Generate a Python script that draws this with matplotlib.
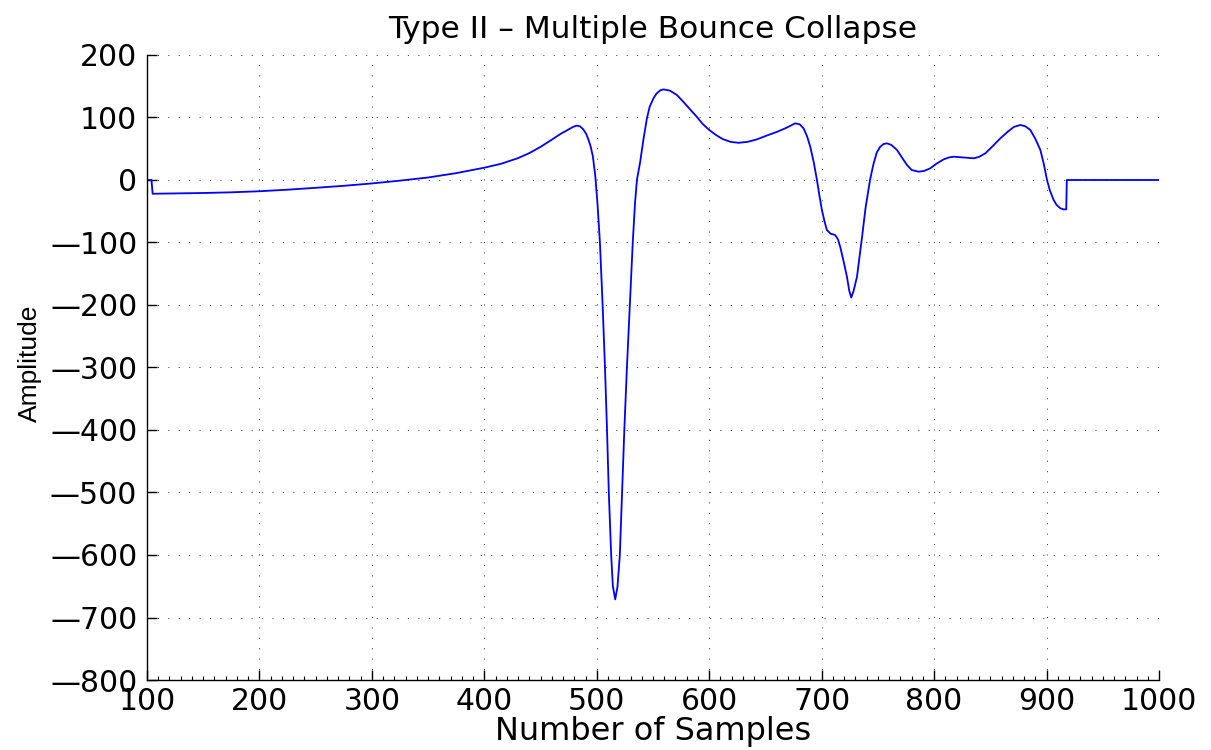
import matplotlib
matplotlib.use("Agg")
import matplotlib.pyplot as plt
from matplotlib.ticker import MultipleLocator, FuncFormatter

# Waveform samples (sample index, amplitude)
sample_idx = [
    100, 104, 105, 125, 150, 175, 200, 225, 250, 275, 300, 325, 350, 375, 400,
    415, 430, 440, 450, 460, 468, 475, 479, 482, 485, 488, 490.5, 492.5, 494.5,
    496.5, 498.6, 500.6, 502.8, 505.2, 507.3, 509.1, 510.7, 512.8, 514.3, 516.4,
    518.4, 520.5, 522.5, 524.5, 526.8, 529.4, 532, 534, 535.7, 538.6, 541.5,
    544.6, 547, 550.5, 553, 556.5, 559.4, 565, 571.3, 577, 583, 589, 594, 600,
    606, 612, 619, 626, 634, 642.4, 651, 660.2, 668, 673, 676.5, 680.5, 683.9,
    687, 689.9, 693, 695.8, 698, 700.2, 702.5, 704.6, 708, 712, 714.5, 716.5,
    719.5, 722.5, 724.5, 726.3, 728.3, 731.4, 733.5, 736, 739, 743, 746, 749,
    752, 755, 758.1, 762, 767, 771, 775.9, 780, 786.2, 791, 796.6, 802, 808.5,
    813, 817.4, 826, 835.1, 840, 845.6, 852, 858.9, 866, 871, 876.7, 881,
    885.6, 890, 894.5, 897.5, 900.4, 903, 906.3, 909, 912.3, 915, 917.5, 918,
    1000,
]
amplitude = [
    0, 0, -22, -21.5, -20.8, -19.7, -18, -15.5, -12.5, -9.3, -5.5, -1, 4, 11, 19.7,
    26, 35, 43, 53, 64.5, 74, 81, 85, 87, 86, 81, 74, 65, 54,
    38, 8, -37, -100, -200, -300, -400, -500, -600, -650, -671,
    -651, -600, -500, -400, -300, -200, -100, -37, 0, 29, 65,
    98.7, 117, 131, 138, 143.5, 145, 143, 136, 125, 113, 101, 90, 80,
    72, 65.5, 61, 59.5, 61, 65, 71, 77, 83, 87.5, 90.7, 89, 82.7,
    70, 53, 28, 0, -25, -48, -66, -80, -86, -88, -95, -107,
    -130, -155, -177, -188, -178, -155, -125, -90, -45, 0, 25, 44,
    53, 57.5, 58.7, 56, 48, 37, 24, 16, 13.3, 14.5, 18.7, 26, 33,
    36, 37.3, 36, 34.7, 37, 42.7, 54, 66.7, 78, 85, 88, 86,
    80, 66, 48, 26, 0, -17, -32, -40, -45.3, -47, -47, 0,
    0,
]

x_ticks = list(range(100, 1001, 100))
y_ticks = list(range(-800, 201, 100))


def dash_label(value, _pos):
    v = int(round(value))
    return f"\u2014{abs(v)}" if v < 0 else f"{v}"


fig = plt.figure(figsize=(12.11, 7.5), dpi=100)
ax = fig.add_axes([147 / 1211, 1 - 680 / 750, 1012 / 1211, 625 / 750])

ax.plot(sample_idx, amplitude, color="#0000ff", linewidth=1.3)

ax.set_xlim(100, 1000)
ax.set_ylim(-800, 200)
ax.set_xticks(x_ticks)
ax.set_yticks(y_ticks)
ax.yaxis.set_major_formatter(FuncFormatter(dash_label))
ax.xaxis.set_minor_locator(MultipleLocator(10))

for side in ("top", "right"):
    ax.spines[side].set_visible(False)
for side in ("left", "bottom"):
    ax.spines[side].set_linewidth(1.0)
    ax.spines[side].set_color("black")

ax.tick_params(axis="both", which="major", direction="in", length=7,
               width=1.0, labelsize=21.5, pad=5, colors="black")
ax.tick_params(axis="x", which="minor", direction="in", length=3, width=0.8)
ax.tick_params(axis="y", which="major", pad=7)
for lab in ax.get_xticklabels() + ax.get_yticklabels():
    lab.set_fontfamily("DejaVu Sans")

ax.grid(True, which="major", color="0.25", linestyle=(0, (1, 9)),
        linewidth=0.75)
ax.set_axisbelow(True)

ax.set_title("Type II \u2013 Multiple Bounce Collapse", fontsize=22.5,
             fontfamily="DejaVu Sans", pad=12)
ax.set_xlabel("Number of Samples", fontsize=23, fontfamily="DejaVu Sans")
ax.xaxis.set_label_coords(0.5, -0.058)
ax.set_ylabel("Amplitude", fontsize=19, fontfamily="Liberation Sans")
ax.yaxis.set_label_coords(-0.104, 0.506)

fig.savefig("out.png", dpi=100)
